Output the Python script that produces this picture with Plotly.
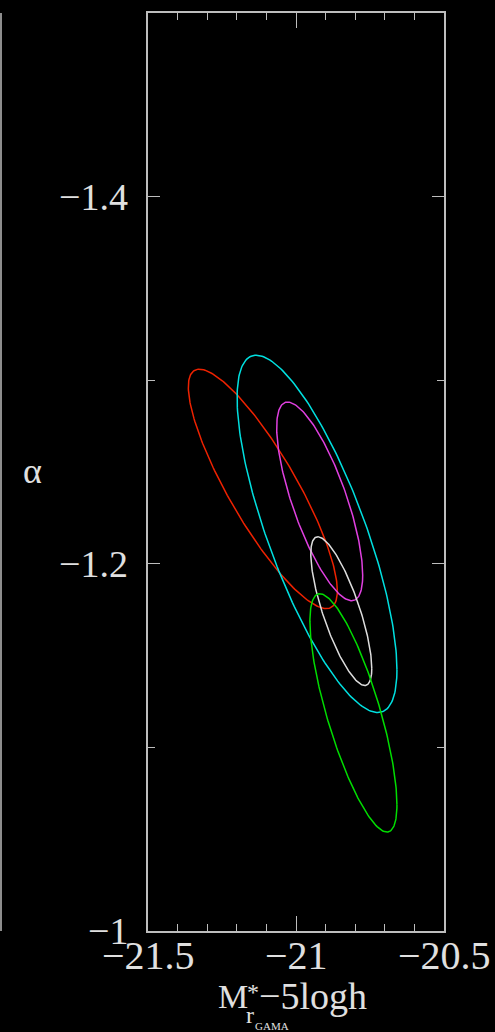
import numpy as np
import plotly.graph_objects as go

# Ellipse contours: centre (M*, alpha), half-extent in x and y, correlation
names = ["red", "cyan", "magenta", "white", "green"]
colors = ["#ee2200", "#00e0e0", "#e040e0", "#dddddd", "#00dd00"]
cx = [-21.112, -20.929, -20.920, -20.847, -20.806]
cy = [-1.2408, -1.2163, -1.2340, -1.1742, -1.1188]
sx = [0.2517, 0.2700, 0.1453, 0.1030, 0.1470]
sy = [0.0652, 0.0973, 0.0541, 0.0405, 0.0649]
rho = [0.852, 0.760, 0.744, 0.770, 0.770]

x_ticks = [-21.5, -21.0, -20.5]
x_labels = ["\u221221.5", "\u221221", "\u221220.5"]
y_ticks = [-1.4, -1.2, -1.0]
y_labels = ["\u22121.4", "\u22121.2", "\u22121"]

FONT = "Liberation Serif"
TXT = "#e0e0e0"
AX = "#bdbdbd"

W, H = 495, 1032
L, T, R, B = 148, 11, 444, 931  # plot box in window pixels

fig = go.Figure()
t = np.linspace(0, 2 * np.pi, 241)
for n, c, x0, y0, a, b, r in zip(names, colors, cx, cy, sx, sy, rho):
    d = np.arccos(r)
    fig.add_trace(go.Scatter(
        x=x0 + a * np.cos(t), y=y0 + b * np.cos(t + d),
        mode="lines", line=dict(color=c, width=1.5), name=n,
        hoverinfo="skip", showlegend=False))

axis_common = dict(
    showgrid=False, zeroline=False, showline=True, linecolor=AX, linewidth=1.5,
    mirror="allticks", ticks="inside", tickcolor=AX, tickwidth=1.2,
    showticklabels=False,
)
fig.update_xaxes(range=[-21.5, -20.5], tickvals=x_ticks,
                 ticklen=15, minor=dict(dtick=0.1, ticks="inside", ticklen=7,
                                        tickcolor=AX, tickwidth=1.2, showgrid=False),
                 **axis_common)
fig.update_yaxes(range=[-1.0, -1.5], tickvals=y_ticks,
                 ticklen=12, minor=dict(dtick=0.1, ticks="inside", ticklen=7,
                                        tickcolor=AX, tickwidth=1.2, showgrid=False),
                 **axis_common)


def px(xp):
    return (xp - L) / (R - L)


def py(yp):
    return (B - yp) / (B - T)


# tick labels as annotations
for v, s in zip(x_ticks, x_labels):
    fig.add_annotation(text=s, xref="x", yref="paper", x=v, y=py(956),
                       xanchor="center", yanchor="middle", showarrow=False,
                       font=dict(family=FONT, size=40, color=TXT))
for v, s in zip(y_ticks, y_labels):
    fig.add_annotation(text=s, xref="paper", yref="y", x=px(130), y=v,
                       xanchor="right", yanchor="middle", showarrow=False,
                       font=dict(family=FONT, size=38, color=TXT))

# axis titles
ann = [
    dict(text="M", x=250, y=997, xanchor="right", size=34),
    dict(text="*", x=245, y=992, xanchor="left", size=24),
    dict(text="\u22125logh", x=257, y=996, xanchor="left", size=38),
    dict(text="r", x=244, y=1015, xanchor="left", size=24),
    dict(text="GAMA", x=253, y=1026, xanchor="left", size=11),
    dict(text="\u03b1", x=32, y=470, xanchor="center", size=36),
]
for a in ann:
    fig.add_annotation(text=a["text"], xref="paper", yref="paper",
                       x=px(a["x"]), y=py(a["y"]),
                       xanchor=a["xanchor"], yanchor="middle", showarrow=False,
                       font=dict(family=FONT, size=a["size"], color=TXT))

# neighbouring panel border at far left
fig.add_shape(type="line", xref="paper", yref="paper",
              x0=px(1), x1=px(1), y0=0, y1=1,
              line=dict(color=AX, width=1.5))

fig.update_layout(
    width=W, height=H,
    margin=dict(l=L, r=W - R, t=T, b=H - B),
    paper_bgcolor="black", plot_bgcolor="black",
    showlegend=False,
)
fig.write_html(
    "out.html",
    config={"displayModeBar": False},
    post_script="document.body.style.margin='0';document.body.style.background='black';"
                "document.body.style.overflow='hidden';",
)
